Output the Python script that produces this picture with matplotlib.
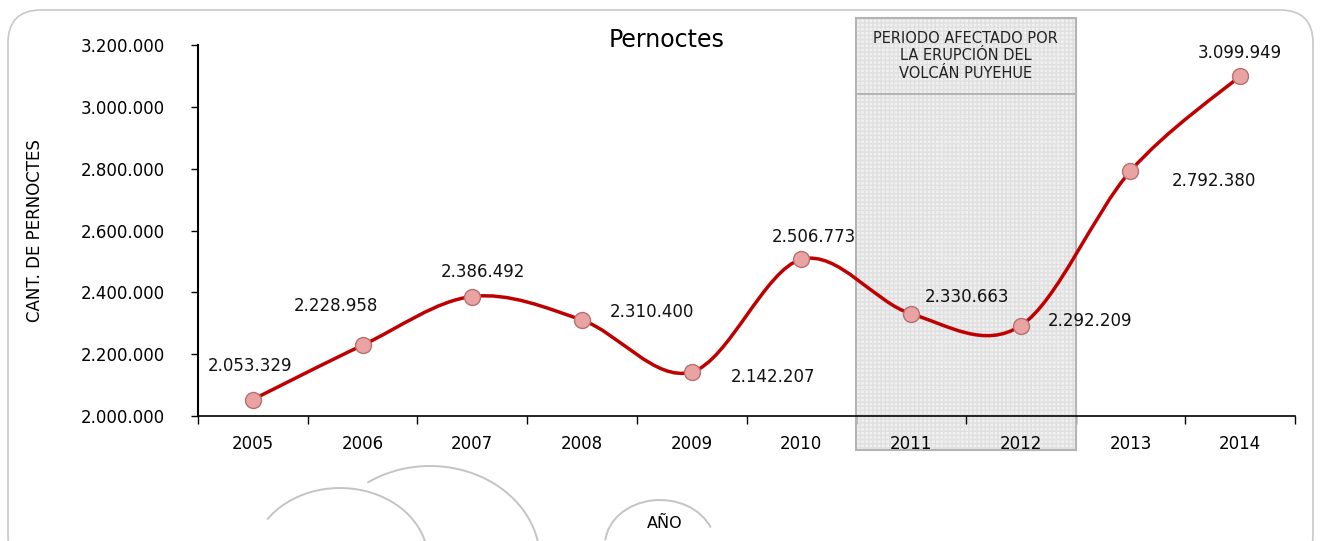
import matplotlib
matplotlib.use('Agg')
import matplotlib.pyplot as plt
import numpy as np
from matplotlib.path import Path
from matplotlib.patches import PathPatch, Rectangle, FancyBboxPatch, Arc
import matplotlib.transforms as mtransforms

# data
years = ['2005', '2006', '2007', '2008', '2009', '2010', '2011', '2012', '2013', '2014']
pernoctes = [2053329, 2228958, 2386492, 2310400, 2142207, 2506773, 2330663, 2292209, 2792380, 3099949]
y_ticks = [2000000, 2200000, 2400000, 2600000, 2800000, 3000000, 3200000]
# label offsets in pixels (dx, dy) relative to each point
label_offsets = [(-3, 34), (-27, 39), (11, 25), (70, 8), (81, -5),
                 (13, 22), (56, 17), (69, 5), (83, -10), (0, 23)]
shaded_years = ('2011', '2012')
shaded_text = 'PERIODO AFECTADO POR\nLA ERUPCIÓN DEL\nVOLCÁN PUYEHUE'

plt.rcParams['font.family'] = 'DejaVu Sans'

W, H = 1321, 541
fig = plt.figure(figsize=(W / 100, H / 100), dpi=100)
fig.patch.set_facecolor('white')

# rounded outer frame
frame = FancyBboxPatch((8 / W, -0.05), (1313 - 8) / W, (H - 10) / H + 0.05,
                       boxstyle='round,pad=0,rounding_size=0.025',
                       transform=fig.transFigure, facecolor='white',
                       edgecolor='#c8c8c8', linewidth=1.2, mutation_aspect=W / H,
                       zorder=-2)
fig.patches.append(frame)

# faint watermark arcs (logo in the background), placed in inches
for cx, cy, w, h, t1, t2 in [(340, 560, 176, 144, 0, 151),
                             (430, 560, 220, 188, 0, 129),
                             (660, 545, 110, 90, 19, 175)]:
    arc = Arc((cx / 100, (H - cy) / 100), w / 100, h / 100, theta1=t1, theta2=t2,
              transform=fig.dpi_scale_trans, color='#c4c4c4', lw=1.4, zorder=-1)
    fig.patches.append(arc)

ax = fig.add_axes([198 / W, 1 - 416 / H, (1295 - 198) / W, (416 - 45) / H])
ax.set_facecolor('none')

x = np.arange(len(years))
y = np.array(pernoctes, dtype=float)

# smoothed line (Bezier between points, Excel-like)
verts = [(x[0], y[0])]
codes = [Path.MOVETO]
n = len(x)
for i in range(n - 1):
    p0 = (x[i - 1], y[i - 1]) if i > 0 else (x[i], y[i])
    p1 = (x[i], y[i])
    p2 = (x[i + 1], y[i + 1])
    p3 = (x[i + 2], y[i + 2]) if i + 2 < n else (x[i + 1], y[i + 1])
    c1 = (p1[0] + (p2[0] - p0[0]) / 6, p1[1] + (p2[1] - p0[1]) / 6)
    c2 = (p2[0] - (p3[0] - p1[0]) / 6, p2[1] - (p3[1] - p1[1]) / 6)
    verts += [c1, c2, p2]
    codes += [Path.CURVE4] * 3
ax.add_patch(PathPatch(Path(verts, codes), facecolor='none', edgecolor='#c00000',
                       lw=2.5, zorder=3))

ax.plot(x, y, linestyle='none', marker='o', markersize=11.5,
        markerfacecolor='#e9a3a3', markeredgecolor='#b77070', markeredgewidth=1, zorder=4)

for xi, yi, (dx, dy) in zip(x, y, label_offsets):
    ax.annotate(f'{int(yi):,}'.replace(',', '.'), (xi, yi), xytext=(dx, dy),
                textcoords='offset pixels', ha='center', va='center', fontsize=12,
                color='#111111', zorder=5)

# shaded period
i0 = years.index(shaded_years[0]) - 0.5
i1 = years.index(shaded_years[1]) + 0.5
trans = mtransforms.blended_transform_factory(ax.transData, ax.transAxes)
y_bot = (416 - 450) / 371
y_top = (416 - 18) / 371
y_mid = (416 - 94) / 371
ax.add_patch(Rectangle((i0, y_bot), i1 - i0, y_top - y_bot, transform=trans,
                       facecolor='#ededed', edgecolor='#dcdcdc', hatch='++++',
                       lw=0, clip_on=False, zorder=1, alpha=0.8))
ax.add_patch(Rectangle((i0, y_bot), i1 - i0, y_top - y_bot, transform=trans,
                       facecolor='none', edgecolor='#b4b4b4', lw=1.5,
                       clip_on=False, zorder=2))
ax.plot([i0, i1], [y_mid, y_mid], transform=trans, color='#b4b4b4', lw=1.5,
        clip_on=False, zorder=2)
ax.text((i0 + i1) / 2, (y_top + y_mid) / 2, shaded_text, transform=trans,
        ha='center', va='center', fontsize=10.5, color='#222222', linespacing=1.2,
        zorder=5)

# axes formatting
ax.set_xlim(-0.5, n - 0.5)
ax.set_ylim(2000000, 3200000)
ax.set_yticks(y_ticks)
ax.set_yticklabels([f'{v:,}'.replace(',', '.') for v in y_ticks])
ax.set_xticks(np.arange(-0.5, n, 1.0))
ax.set_xticklabels([])
ax.set_xticks(x, minor=True)
ax.set_xticklabels(years, minor=True)
ax.tick_params(axis='x', which='major', length=6, width=1, direction='out')
ax.tick_params(axis='x', which='minor', length=0, pad=14, labelsize=12)
ax.tick_params(axis='y', length=5, width=1, direction='out', pad=19, labelsize=12)
for side in ['top', 'right']:
    ax.spines[side].set_visible(False)
ax.spines['left'].set_linewidth(1.5)
ax.spines['bottom'].set_linewidth(1.2)

fig.text(667 / W, 1 - 40 / H, 'Pernoctes', ha='center', va='center', fontsize=17)
fig.text(35 / W, 1 - 231 / H, 'CANT. DE PERNOCTES', ha='center', va='center',
         rotation=90, fontsize=12)
fig.text(665 / W, 1 - 523 / H, 'AÑO', ha='center', va='center', fontsize=11.5)

fig.savefig('out.png', dpi=100)
